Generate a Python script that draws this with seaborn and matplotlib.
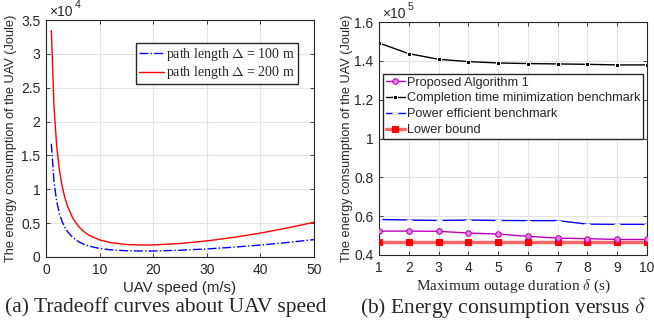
import pandas as pd
import matplotlib
matplotlib.use("Agg")
import matplotlib.pyplot as plt
from matplotlib.ticker import FuncFormatter
import seaborn as sns

# ---- data: panel (a) energy vs UAV speed ----
speed = [1, 1.5, 2, 2.5, 3, 3.5, 4, 5, 6, 7, 8, 10, 12, 15, 18, 20, 25, 30, 35, 40, 45, 50]
energy_100 = [16717, 11037, 8168, 6426, 5252, 4405, 3766, 2872, 2290, 1893, 1612, 1260,
              1065, 924, 883, 892, 996, 1188, 1448, 1767, 2142, 2568]
energy_200 = [33434, 22073, 16335, 12852, 10504, 8810, 7532, 5745, 4580, 3786, 3225, 2521,
              2130, 1847, 1767, 1783, 1992, 2375, 2895, 3535, 4283, 5136]

# ---- data: panel (b) energy vs max outage duration ----
delta = [1, 2, 3, 4, 5, 6, 7, 8, 9, 10]
proposed = [0.523, 0.523, 0.522, 0.513, 0.508, 0.496, 0.487, 0.484, 0.480, 0.480]
completion = [1.492, 1.437, 1.408, 1.396, 1.389, 1.386, 1.384, 1.382, 1.379, 1.379]
power_eff = [0.583, 0.580, 0.578, 0.580, 0.578, 0.577, 0.577, 0.559, 0.558, 0.558]
lower_bound = [0.469] * 10

sns.set_theme(style="ticks")
plt.rcParams["font.family"] = ["Liberation Sans", "DejaVu Sans"]
plt.rcParams["mathtext.fontset"] = "cm"
plt.rcParams["axes.edgecolor"] = "#262626"
plt.rcParams["xtick.color"] = "#262626"
plt.rcParams["ytick.color"] = "#262626"

fig = plt.figure(figsize=(6.54, 3.28), dpi=100)
ax1 = fig.add_axes([46 / 654, 1 - 257 / 328, 268 / 654, 237 / 328])
ax2 = fig.add_axes([379 / 654, 1 - 255 / 328, 268 / 654, 233 / 328])

df_a = pd.DataFrame({"speed": speed, "d100": energy_100, "d200": energy_200})
sns.lineplot(data=df_a, x="speed", y="d100", ax=ax1, color="#0000ff", linestyle="-.",
             linewidth=1.0, label=r"path length $\Delta$ = 100 m")
sns.lineplot(data=df_a, x="speed", y="d200", ax=ax1, color="#ff0000", linestyle="-",
             linewidth=1.0, label=r"path length $\Delta$ = 200 m")

df_b = pd.DataFrame({"delta": delta, "proposed": proposed, "completion": completion,
                     "power": power_eff, "lower": lower_bound})
sns.lineplot(data=df_b, x="delta", y="proposed", ax=ax2, color="#bb00bb", linewidth=1.0,
             marker="o", markersize=4, markerfacecolor="#e080e0", markeredgecolor="#bb00bb",
             label="Proposed Algorithm 1", zorder=4)
sns.lineplot(data=df_b, x="delta", y="completion", ax=ax2, color="black", linewidth=1.0,
             marker="s", markersize=2.5, label="Completion time minimization benchmark")
sns.lineplot(data=df_b, x="delta", y="power", ax=ax2, color="#0000ff", linewidth=1.0,
             marker="+", markersize=5, markeredgewidth=1.0, label="Power efficient benchmark")
sns.lineplot(data=df_b, x="delta", y="lower", ax=ax2, color="#ff6666", linewidth=2.5,
             marker="s", markersize=4, markerfacecolor="#ff0000", markeredgecolor="#ff0000",
             label="Lower bound", zorder=3)

for ax in (ax1, ax2):
    ax.grid(True, color="#e3e3e3", linewidth=0.8)
    ax.set_axisbelow(True)
    ax.tick_params(direction="in", length=3, width=0.6, labelsize=10, pad=4,
                   top=True, right=True)
    for s in ax.spines.values():
        s.set_linewidth(0.8)


def offset_label(ax, power):
    # MATLAB style "x10^n" above the top-left corner of the axes
    ax.annotate("\u00d710", xy=(0, 1), xycoords="axes fraction", xytext=(2, 1),
                textcoords="offset points", fontsize=10, va="bottom", ha="left",
                color="#262626")
    ax.annotate(str(power), xy=(0, 1), xycoords="axes fraction", xytext=(20.5, 7),
                textcoords="offset points", fontsize=7.5, va="bottom", ha="left",
                color="#262626")


ax1.set_xlim(0, 50)
ax1.set_ylim(0, 35000)
ax1.set_xticks(range(0, 51, 10))
ax1.set_yticks([i * 5000 for i in range(8)])
ax1.yaxis.set_major_formatter(FuncFormatter(lambda v, p: f"{v / 1e4:g}"))
ax1.set_xlabel("UAV speed (m/s)", fontsize=10.8, labelpad=3)
ax1.set_ylabel("The energy consumption of the UAV (Joule)", fontsize=9.2, labelpad=3)
offset_label(ax1, 4)
ax1.legend(loc="upper right", bbox_to_anchor=(0.94, 0.903),
           prop={"family": "Liberation Serif", "size": 10}, frameon=True, fancybox=False,
           edgecolor="#262626", framealpha=1, handlelength=1.8, borderpad=0.2,
           labelspacing=0.12, handletextpad=0.2, borderaxespad=0)

ax2.set_xlim(1, 10)
ax2.set_ylim(0.4, 1.6)
ax2.set_xticks(range(1, 11))
ax2.set_yticks([0.4, 0.6, 0.8, 1.0, 1.2, 1.4, 1.6])
ax2.yaxis.set_major_formatter(FuncFormatter(lambda v, p: f"{v:g}"))
ax2.set_xlabel(r"Maximum outage duration $\delta$ (s)", fontsize=11, labelpad=2,
               family="Liberation Serif")
ax2.set_ylabel("The energy consumption of the UAV (Joule)", fontsize=9.2, labelpad=1)
offset_label(ax2, 5)
ax2.legend(loc="upper left", bbox_to_anchor=(0.015, 0.777), fontsize=9.2,
           frameon=True, fancybox=False, edgecolor="#262626", framealpha=1,
           handlelength=1.5, borderpad=0.2, labelspacing=0.3, handletextpad=0.2,
           borderaxespad=0)

fig.text(166 / 654, 1 - 307 / 328, "(a) Tradeoff curves about UAV speed",
         family="Liberation Serif", fontsize=15.5, ha="center", va="center")
fig.text(503 / 654, 1 - 307 / 328, r"(b) Energy consumption versus $\delta$",
         family="Liberation Serif", fontsize=15.5, ha="center", va="center")

fig.savefig("out.png", dpi=100)
